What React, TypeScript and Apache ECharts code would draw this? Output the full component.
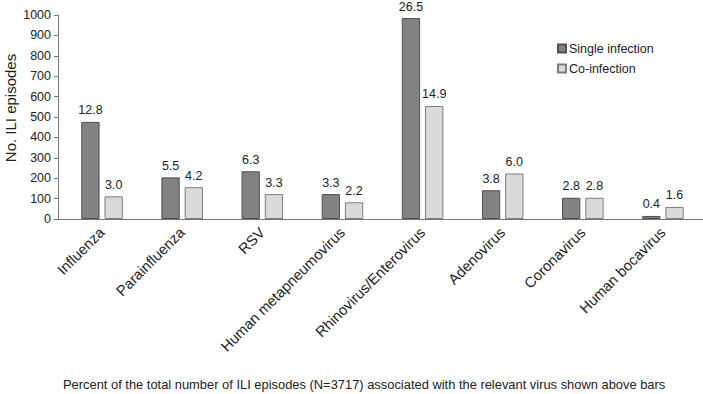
import React, { useEffect, useRef } from "react";
import * as echarts from "echarts";

const categories = [
  "Influenza",
  "Parainfluenza",
  "RSV",
  "Human metapneumovirus",
  "Rhinovirus/Enterovirus",
  "Adenovirus",
  "Coronavirus",
  "Human bocavirus",
];
const singleInfection = [476, 204, 234, 122, 985, 141, 104, 15];
const coInfection = [111, 156, 122, 82, 554, 223, 104, 59];
const singleLabels = ["12.8", "5.5", "6.3", "3.3", "26.5", "3.8", "2.8", "0.4"];
const coLabels = ["3.0", "4.2", "3.3", "2.2", "14.9", "6.0", "2.8", "1.6"];

const FONT = "Liberation Sans, Arial, sans-serif";
const TXT = "#222";

export default function App() {
  const ref = useRef<HTMLDivElement>(null);
  useEffect(() => {
    const chart = echarts.init(ref.current!, undefined, { renderer: "svg" });
    chart.setOption({
      animation: false,
      backgroundColor: "#ffffff",
      textStyle: { fontFamily: FONT },
      title: {
        text: "Percent of the total number of ILI episodes (N=3717) associated with the relevant virus shown above bars",
        left: 63,
        top: 378,
        padding: 0,
        textStyle: { fontSize: 12.9, fontWeight: "normal", color: TXT, fontFamily: FONT },
      },
      legend: {
        orient: "vertical",
        left: 557,
        top: 42,
        padding: 0,
        itemWidth: 8,
        itemHeight: 8,
        itemGap: 7,
        icon: "rect",
        textStyle: { fontSize: 12.5, color: TXT, fontFamily: FONT, padding: [0, 0, 0, -2] },
        data: ["Single infection", "Co-infection"],
      },
      graphic: [
        {
          type: "text",
          x: 10,
          y: 108,
          rotation: Math.PI / 2,
          style: {
            text: "No. ILI episodes",
            align: "center",
            verticalAlign: "middle",
            fontSize: 15,
            fontFamily: FONT,
            fill: TXT,
          },
        },
        {
          type: "line",
          shape: { x1: 58, y1: 219.5, x2: 62, y2: 219.5 },
          style: { stroke: "#777", lineWidth: 1 },
        },
      ],
      grid: { left: 62, right: 0, top: 15, bottom: 175, containLabel: false, outerBoundsMode: "none" },
      xAxis: {
        type: "category",
        data: categories,
        axisLine: { lineStyle: { color: "#777", width: 1 } },
        axisTick: { show: false },
        axisLabel: {
          rotate: 45,
          interval: 0,
          fontSize: 14.7,
          color: TXT,
          fontFamily: FONT,
          margin: 11,
        },
      },
      yAxis: {
        type: "value",
        min: 0,
        max: 1000,
        interval: 100,
        offset: 4,
        splitLine: { show: false },
        axisLine: { show: true, lineStyle: { color: "#777", width: 1 } },
        axisTick: { show: true, length: 4, inside: false, lineStyle: { color: "#777" } },
        axisLabel: {
          fontSize: 12.5,
          color: TXT,
          fontFamily: FONT,
          margin: 7,
          formatter: (v: number) => String(v),
        },
      },
      series: [
        {
          name: "Single infection",
          type: "bar",
          data: singleInfection,
          barWidth: 18.3,
          barGap: "27%",
          itemStyle: { color: "#828282", borderColor: "#4f4f4f", borderWidth: 1 },
          label: {
            show: true,
            position: "top",
            distance: 5,
            fontSize: 12.5,
            color: TXT,
            fontFamily: FONT,
            formatter: (p: any) => singleLabels[p.dataIndex],
          },
        },
        {
          name: "Co-infection",
          type: "bar",
          data: coInfection,
          barWidth: 18.3,
          itemStyle: { color: "#dadada", borderColor: "#7d7d7d", borderWidth: 1 },
          label: {
            show: true,
            position: "top",
            distance: 5,
            fontSize: 12.5,
            color: TXT,
            fontFamily: FONT,
            formatter: (p: any) => coLabels[p.dataIndex],
          },
        },
      ],
    });
    return () => chart.dispose();
  }, []);
  return <div ref={ref} style={{ width: 703, height: 394, position: "absolute", left: 0, top: 0 }} />;
}
